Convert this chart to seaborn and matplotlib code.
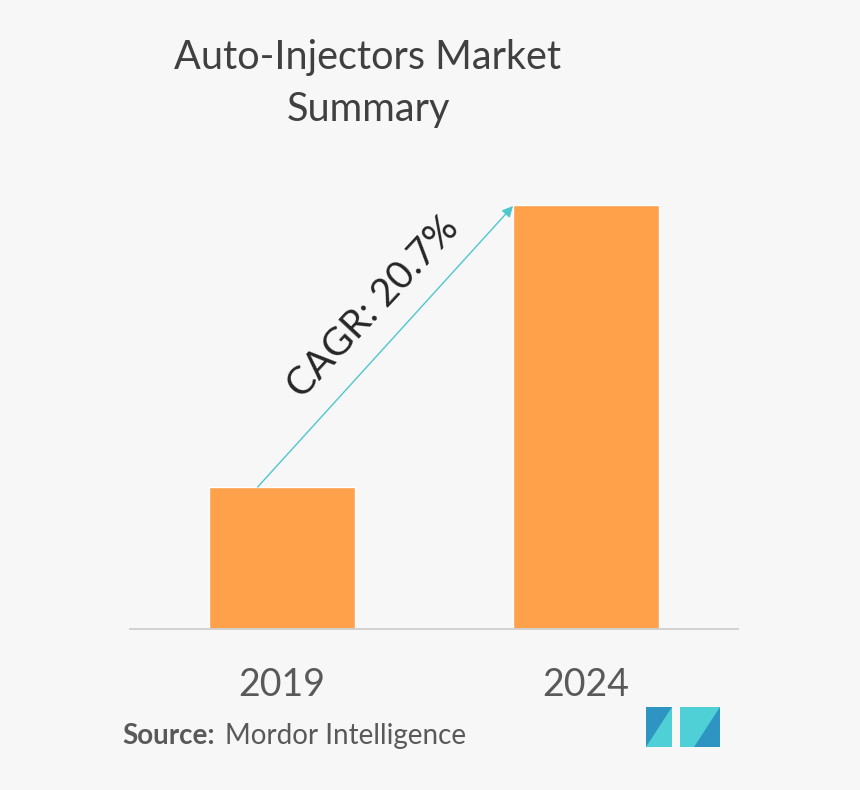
import matplotlib
matplotlib.use('Agg')
import matplotlib.pyplot as plt
from matplotlib.patches import Polygon

import pandas as pd
import seaborn as sns

years = ['2019', '2024']
values = [142, 424]
bar_color = '#ffa04a'
bg_color = '#f7f7f7'

sns.set_style('white')
plt.rcParams['font.family'] = ['Lato', 'DejaVu Sans']

df = pd.DataFrame({'year': years, 'value': values})

fig = plt.figure(figsize=(8.6, 7.9), dpi=100, facecolor=bg_color)
# axes in pixels: x 130-738, baseline at y=629
ax = fig.add_axes([130/860, 1 - 629/790, 608/860, 429/790], facecolor=bg_color)

sns.barplot(data=df, x='year', y='value', color=bar_color, saturation=1,
            width=0.48, ax=ax)
ax.set_xlim(-0.5, 1.5)
ax.set_ylim(0, 429)
ax.set_xlabel('')
ax.set_ylabel('')
ax.set_yticks([])
ax.tick_params(axis='x', length=0, pad=27, labelsize=27, labelcolor='#595959')
sns.despine(ax=ax, left=True)
ax.spines['bottom'].set_color('#cfcfcf')
ax.spines['bottom'].set_linewidth(1.3)

# CAGR arrow from the top of the first bar to the top of the second
ax.annotate('', xy=(0.76, values[1] - 1), xytext=(-0.08, values[0]),
            arrowprops=dict(arrowstyle='-|>', color='#4fc6cc', lw=1,
                            mutation_scale=16, shrinkA=0, shrinkB=0))

fig.text(368/860, 1 - 58/790, 'Auto-Injectors Market', fontsize=28.5,
         color='#404040', ha='center', va='center')
fig.text(368/860, 1 - 109/790, 'Summary', fontsize=28.5,
         color='#404040', ha='center', va='center')
fig.text(373/860, 1 - 307/790, 'CAGR: 20.7%', fontsize=28, color='#262626',
         ha='center', va='center', rotation=47, rotation_mode='anchor')

fig.text(122/860, 1 - 736/790, 'Source:', fontsize=20, fontweight='bold',
         color='#595959', ha='left', va='center')
fig.text(225/860, 1 - 736/790, 'Mordor Intelligence', fontsize=20,
         color='#595959', ha='left', va='center')

# logo, in figure pixels
logo = [
    ([646, 747], [646, 707], [672, 707], [672, 747], '#2e94c2'),
    ([646, 747], [672, 707], [672, 747], '#4fd0d6'),
    ([680, 747], [680, 707], [694, 707], [694, 747], '#4fd0d6'),
    ([694, 747], [694, 707], [720, 707], [720, 747], '#2e94c2'),
    ([694, 707], [720, 707], [694, 747], '#4fd0d6'),
]
for shape in logo:
    pts = [(x/860, 1 - y/790) for x, y in shape[:-1]]
    fig.add_artist(Polygon(pts, closed=True, transform=fig.transFigure,
                           facecolor=shape[-1], edgecolor='none'))

fig.savefig('out.png', dpi=100, facecolor=bg_color)
